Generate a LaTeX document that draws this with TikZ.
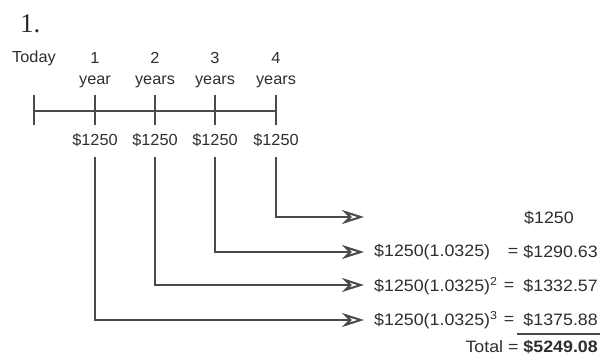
\documentclass[tikz,border=0pt]{standalone}
\usepackage{fontspec}
\setmainfont{Liberation Sans}
\newfontfamily\topfont{Liberation Sans}[FakeStretch=1.02]
\newfontfamily\rightfont{Liberation Sans}[FakeStretch=1.08]
\newfontfamily\numfont{Liberation Serif}
\usetikzlibrary{arrows.meta}
\definecolor{ln}{HTML}{4A4A4A}
\definecolor{tx}{HTML}{2E2E2E}
\tikzset{
  lbl/.style={inner sep=0pt, text=tx, font=\topfont\fontsize{16}{16}\selectfont},
  rlbl/.style={inner sep=0pt, text=tx, font=\rightfont\fontsize{16.5}{16.5}\selectfont},
  tl/.style={line width=1.7pt, draw=ln},
  flow/.style={line width=1.7pt, draw=ln, -{Stealth[open, length=22pt, width=14pt, inset=7pt, line width=2pt]}},
}
\begin{document}
\begin{tikzpicture}[x=1pt,y=-1pt]
\useasboundingbox (0,0) rectangle (605,357);
\node[inner sep=0pt, text=tx, font=\numfont\fontsize{27}{27}\selectfont, anchor=west] (num) at (20,24) {1.};
% top labels
\node[lbl] (today) at (34,58) {Today};
\foreach \i/\x/\w in {1/95/year,2/155/years,3/215/years,4/276/years}{
  \node[lbl] (n\i) at (\x,58) {\i};
  \node[lbl] (y\i) at (\x,82) {\w};
  \node[lbl] (m\i) at (\x,140) {\$1250};
}
% timeline
\coordinate (t0) at (34,111);
\coordinate (t4) at (276,111);
\draw[tl] (t0) -- (t4);
\foreach \x in {34,95,155,215,276}{
  \draw[tl] (\x,95) -- (\x,125);
}
% right labels
\node[rlbl, anchor=west] (r1) at (524,218) {\$1250};
\node[rlbl, anchor=west] (r2) at (374,252) {\$1250(1.0325)};
\node[rlbl] (e2) at (513,252) {=};
\node[rlbl, anchor=east] (s2) at (598,252) {\$1290.63};
\node[rlbl, anchor=west] (r3) at (374,286) {\$1250(1.0325)\textsuperscript{2}};
\node[rlbl] (e3) at (509,286) {=};
\node[rlbl, anchor=east] (s3) at (598,286) {\$1332.57};
\node[rlbl, anchor=west] (r4) at (374,320) {\$1250(1.0325)\textsuperscript{3}};
\node[rlbl] (e4) at (509,320) {=};
\node[rlbl, anchor=east] (s4) at (598,320) {\$1375.88};
\node[rlbl, anchor=east] (tot) at (598,347) {Total = \textbf{\$5249.08}};
\coordinate (u1) at (517,334);
\coordinate (u2) at (600,334);
\draw[line width=1.4pt, draw=ln] (u1) -- (u2);
% connectors
\coordinate (a4) at (364,217);
\coordinate (a3) at (364,252);
\coordinate (a2) at (364,285);
\coordinate (a1) at (364,320);
\draw[flow] (m4.south |- 0,157) |- (a4);
\draw[flow] (m3.south |- 0,157) |- (a3);
\draw[flow] (m2.south |- 0,157) |- (a2);
\draw[flow] (m1.south |- 0,157) |- (a1);
\end{tikzpicture}
\end{document}
